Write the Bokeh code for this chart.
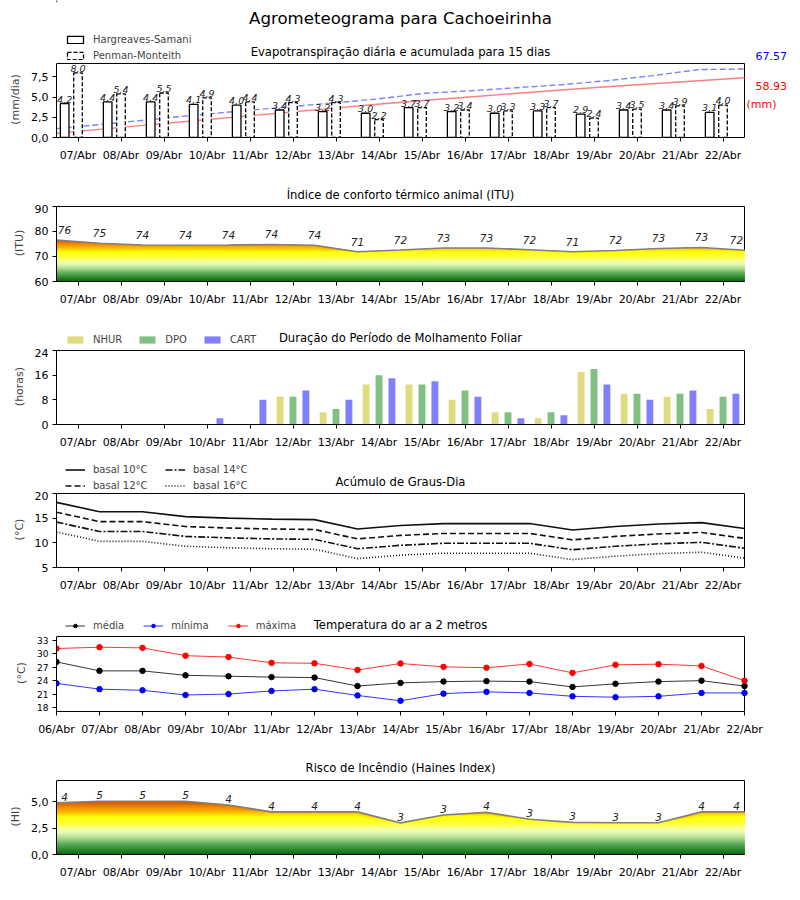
import numpy as np
from bokeh.plotting import figure
from bokeh.models import Range1d, FixedTicker, Legend, LegendItem, Label
from bokeh.layouts import column
from bokeh.embed import file_html
from bokeh.resources import INLINE
from bokeh.core.properties import value

FONT = "DejaVu Sans"

# ---------------- data ----------------
days = ["07/Abr", "08/Abr", "09/Abr", "10/Abr", "11/Abr", "12/Abr", "13/Abr", "14/Abr",
        "15/Abr", "16/Abr", "17/Abr", "18/Abr", "19/Abr", "20/Abr", "21/Abr", "22/Abr"]
days_temp = ["06/Abr"] + days

et_hs = [4.2, 4.4, 4.4, 4.1, 4.0, 3.4, 3.2, 3.0, 3.7, 3.2, 3.0, 3.3, 2.9, 3.4, 3.4, 3.1]
et_pm = [8.0, 5.4, 5.5, 4.9, 4.4, 4.3, 4.3, 2.2, 3.7, 3.4, 3.3, 3.7, 2.4, 3.5, 3.9, 4.0]
acc_hs = [4.2, 8.3, 12.4, 16.5, 20.6, 24.6, 28.7, 32.8, 36.5, 40.0, 43.4, 46.8, 50.0, 53.0, 56.0, 58.93]
acc_pm = [8.8, 13.0, 17.5, 22.0, 26.0, 30.0, 34.0, 38.0, 43.5, 46.0, 49.0, 52.0, 56.0, 61.0, 67.0, 67.57]
acc_hs_total = "58.93"
acc_pm_total = "67.57"

itu = [76.6, 75.3, 74.6, 74.5, 74.6, 74.8, 74.5, 71.9, 72.6, 73.4, 73.4, 72.7, 71.9, 72.4, 73.2, 73.6, 72.5]

nhur = [0, 0, 0, 0, 0, 9, 4, 13, 13, 8, 4, 2, 17, 10, 9, 5]
dpo = [0, 0, 0, 0, 0, 9, 5, 16, 13, 11, 4, 4, 18, 10, 10, 9]
cart = [0, 0, 0, 2, 8, 11, 8, 15, 14, 9, 2, 3, 13, 8, 11, 10]

gd10 = [18.2, 16.3, 16.3, 15.3, 15.0, 14.8, 14.7, 12.8, 13.5, 13.9, 13.9, 13.9, 12.6, 13.3, 13.8, 14.1, 12.9]
gd12 = [16.2, 14.3, 14.3, 13.3, 13.0, 12.8, 12.7, 10.8, 11.5, 11.9, 11.9, 11.9, 10.6, 11.3, 11.8, 12.1, 10.9]
gd14 = [14.2, 12.3, 12.3, 11.3, 11.0, 10.8, 10.7, 8.8, 9.5, 9.9, 9.9, 9.9, 8.6, 9.3, 9.8, 10.1, 8.9]
gd16 = [12.2, 10.3, 10.3, 9.3, 9.0, 8.8, 8.7, 6.8, 7.5, 7.9, 7.9, 7.9, 6.6, 7.3, 7.8, 8.1, 6.9]

t_med = [28.2, 26.2, 26.2, 25.2, 25.0, 24.8, 24.7, 22.8, 23.5, 23.8, 23.9, 23.8, 22.6, 23.3, 23.8, 24.0, 22.8]
t_min = [23.4, 22.1, 21.85, 20.8, 21.0, 21.7, 22.1, 20.7, 19.5, 21.1, 21.5, 21.25, 20.5, 20.3, 20.5, 21.25, 21.25]
t_max = [31.2, 31.5, 31.35, 29.6, 29.3, 28.0, 27.9, 26.4, 27.85, 27.1, 26.9, 27.75, 25.75, 27.55, 27.7, 27.3, 24.0]

haines = [4.9, 5.05, 5.05, 5.05, 4.7, 4.05, 4.05, 4.05, 3.0, 3.75, 4.0, 3.35, 3.05, 3.02, 3.02, 4.05, 4.05]

# ---------------- helpers ----------------
xs16 = np.arange(len(days), dtype=float)
xs17 = np.arange(len(days_temp), dtype=float) - 0.5
xs_acc = np.linspace(-0.5, len(days) - 0.5, len(acc_hs))

FIG_W = 800
LEFT = 56
PX = 43.0   # pixels per day
BOTTOM = 26
PAD = 2     # px of frame kept above the data box so its top edge is not clipped
OFF = [-1000.0]   # legend-only proxies sit far outside the header's visible range

STOPS = [(0.0, "#0a650a"), (0.1, "#2f8a2f"), (0.2, "#5fae5f"), (0.3, "#a8d88a"),
         (0.4, "#e2f7b4"), (0.48, "#f4ffa0"), (0.56, "#ffff40"), (0.7, "#ffff08"),
         (0.76, "#ffd000"), (0.82, "#f8a800"), (0.9, "#f08000"), (1.0, "#c84800")]


def hex2rgb(h):
    return np.array([int(h[i:i + 2], 16) for i in (1, 3, 5)], dtype=float)


def cmap(f):
    for (f0, c0), (f1, c1) in zip(STOPS[:-1], STOPS[1:]):
        if f <= f1:
            t = (f - f0) / (f1 - f0)
            c = hex2rgb(c0) * (1 - t) + hex2rgb(c1) * t
            return "#%02x%02x%02x" % tuple(int(round(v)) for v in c)
    return STOPS[-1][1]


class Panel:
    """Header strip (title + legend, page-pixel coords) and a data figure below it."""

    def __init__(self, T, D, B, x0, x1, ymin, ymax, ylabel, xticks, xlabels, yticks,
                 ylabels=None, ytick_size="11px"):
        self.T, self.D, self.B = T, D, B
        self.x0, self.x1, self.ymin, self.ymax = x0, x1, ymin, ymax
        top = D - PAD
        self.top = top
        # header figure: data coordinates == page pixels (frame spans LEFT..FIG_W)
        h = figure(width=FIG_W, height=top - T, x_range=Range1d(LEFT, FIG_W),
                   y_range=Range1d(top, T), output_backend="svg", toolbar_location=None,
                   x_axis_type=None, y_axis_type=None,
                   min_border_left=LEFT, min_border_right=0, min_border_top=0, min_border_bottom=0)
        h.xgrid.visible = False
        h.ygrid.visible = False
        h.outline_line_alpha = 0
        self.h = h
        # data figure
        y_ext = ymin + (ymax - ymin) * (B - top) / (B - D)
        x_ext = x0 + (FIG_W - LEFT) / PX
        p = figure(width=FIG_W, height=B + BOTTOM - top, x_range=Range1d(x0, x_ext),
                   y_range=Range1d(ymin, y_ext), output_backend="svg", toolbar_location=None,
                   min_border_left=LEFT, min_border_right=0, min_border_top=0,
                   min_border_bottom=BOTTOM)
        p.xgrid.visible = False
        p.ygrid.visible = False
        p.outline_line_alpha = 0
        p.xaxis.ticker = FixedTicker(ticks=list(xticks))
        p.xaxis.major_label_overrides = {int(t): l for t, l in zip(xticks, xlabels)}
        p.yaxis.ticker = FixedTicker(ticks=list(yticks))
        if ylabels is not None:
            p.yaxis.major_label_overrides = {t: l for t, l in zip(yticks, ylabels)}
        p.xaxis.bounds = (x0, x1)
        p.yaxis.bounds = (ymin, ymax)
        for ax in (p.xaxis[0], p.yaxis[0]):
            ax.axis_line_color = "black"
            ax.axis_line_width = 1
            ax.major_tick_line_color = "black"
            ax.major_tick_out = 4
            ax.major_tick_in = 0
            ax.minor_tick_out = 0
            ax.minor_tick_in = 0
            ax.major_label_text_font = FONT
            ax.major_label_text_color = "black"
        p.xaxis.major_label_standoff = 7
        p.yaxis.major_label_standoff = 4
        p.xaxis.major_label_text_font_size = "11px"
        p.yaxis.major_label_text_font_size = ytick_size
        p.yaxis.axis_label = ylabel
        p.yaxis.axis_label_text_font = FONT
        p.yaxis.axis_label_text_font_size = "11px"
        p.yaxis.axis_label_text_font_style = "normal"
        p.yaxis.axis_label_standoff = 6
        # top and right sides of the box
        p.segment(x0=[x0, x1], y0=[ymax, ymin], x1=[x1, x1], y1=[ymax, ymax],
                  line_color="black", line_width=1)
        self.p = p

    def xpx(self, x_px):
        return self.x0 + (x_px - LEFT) / PX

    def head_text(self, text, x_px, y_px, size, color="black", align="center"):
        self.h.add_layout(Label(x=x_px, y=y_px, text=text, text_font=FONT,
                                text_font_size=size, text_color=color, text_align=align,
                                text_baseline="middle"))

    def title(self, text, y_px):
        self.head_text(text, 400, y_px, "11.6px")

    def legend(self, items, orientation, left_px, bottom_px, spacing=None):
        bottom_px = min(bottom_px, self.top)
        lg = Legend(items=items)
        lg.orientation = orientation
        lg.location = (left_px - LEFT, self.top - bottom_px)
        lg.label_text_font = FONT
        lg.label_text_font_size = "10px"
        lg.glyph_width = 20
        lg.glyph_height = 9
        lg.label_height = 12
        lg.label_standoff = 8
        if spacing is None:
            spacing = 4 if orientation == "vertical" else 19
        lg.spacing = spacing
        lg.padding = 0
        lg.margin = 0
        lg.border_line_alpha = 0
        lg.background_fill_alpha = 0
        self.h.add_layout(lg)


def gradient_area(p, xs, vals, vmin, vmax, base, n=60):
    curve = np.array(vals, dtype=float)
    for k in range(n - 1, -1, -1):
        hi = vmin + (k + 1) * (vmax - vmin) / n
        col = cmap((k + 0.5) / n)
        p.varea(x=xs, y1=np.full(len(xs), base), y2=np.minimum(curve, hi), fill_color=col)
    p.line(xs, curve, line_color="#808080", line_width=1.6)


# ---------------- panel 1: ET ----------------
P1 = Panel(0, 63, 138, -0.5, 15.5, 0, 9.15, "(mm/dia)", xs16, days,
           [0, 2.5, 5, 7.5], ["0,0", "2,5", "5,0", "7,5"])
p1 = P1.p
P1.head_text("Agrometeograma para Cachoeirinha", 400, 18, "16.6px")
P1.title("Evapotranspiração diária e acumulada para 15 dias", 51)

acc_max = 73.0
acc_ext = acc_max * (P1.B - P1.top) / (P1.B - P1.D)
p1.extra_y_ranges = {"acc": Range1d(0, acc_ext)}
p1.line(xs_acc, acc_pm, y_range_name="acc", line_color="#7f7fff", line_dash="6 3", line_width=1.4)
p1.line(xs_acc, acc_hs, y_range_name="acc", line_color="#ff7f7f", line_width=1.4)

bar_hs = dict(fill_color="white", line_color="black", line_width=1.3)
bar_pm = dict(fill_color="white", line_color="black", line_width=1.3, line_dash="4 2")
p1.vbar(x=xs16 - 0.31, width=0.2, top=et_hs, **bar_hs)
p1.vbar(x=xs16, width=0.2, top=et_pm, **bar_pm)
fmt = lambda v: ("%.1f" % v).replace(".", ",")
for xx, vals in ((xs16 - 0.31, et_hs), (xs16, et_pm)):
    p1.text(x=xx, y=vals, text=[fmt(v) for v in vals], text_font=value(FONT),
            text_font_style="italic", text_font_size="9.5px", text_align="center",
            text_baseline="bottom", y_offset=-1, text_color="#222222")


def acc_y(y_px):
    return (P1.B - y_px) / (P1.B - P1.D) * acc_max


P1.head_text(acc_pm_total, 755, 55, "11px", color="blue", align="left")
p1.add_layout(Label(x=P1.xpx(755), y=acc_y(86), y_range_name="acc", text=acc_hs_total,
                    text_color="red", text_font=FONT, text_font_size="11px", text_baseline="middle"))
p1.add_layout(Label(x=P1.xpx(746), y=acc_y(105), y_range_name="acc", text="(mm)",
                    text_color="red", text_font=FONT, text_font_size="11px", text_baseline="middle"))

h1 = P1.h
l_hs = h1.vbar(x=OFF, top=[1], width=1, **bar_hs)
l_pm = h1.vbar(x=OFF, top=[1], width=1, **bar_pm)
P1.legend([LegendItem(label="Hargreaves-Samani", renderers=[l_hs]),
           LegendItem(label="Penman-Monteith", renderers=[l_pm])], "vertical", 65, 61)

# ---------------- panel 2: ITU ----------------
P2 = Panel(164, 206, 282, -0.5, 15.5, 60, 90, "(ITU)", xs16, days, [60, 70, 80, 90])
p2 = P2.p
P2.title("Índice de conforto térmico animal (ITU)", 194)
gradient_area(p2, xs17, itu, 60, 77, 60)
itu_lab = [str(int(v)) for v in itu]
offs = [8] + [0] * (len(itu) - 2) + [-8]
p2.text(x=xs17, y=itu, text=itu_lab, x_offset=offs, y_offset=-10, text_font=value(FONT),
        text_font_style="italic", text_font_size="10.5px", text_align="center",
        text_baseline="middle", text_color="#222222")

# ---------------- panel 3: leaf wetness ----------------
P3 = Panel(308, 350, 425, -0.5, 15.5, 0, 24, "(horas)", xs16, days, [0, 8, 16, 24])
p3 = P3.p
P3.title("Duração do Período de Molhamento Foliar", 337)
wet_cols = {"NHUR": "#dfdc80", "DPO": "#80c080", "CART": "#8080ff"}
for off, vals, name in ((-0.3, nhur, "NHUR"), (0.0, dpo, "DPO"), (0.3, cart, "CART")):
    p3.vbar(x=xs16 + off, width=0.16, top=vals, fill_color=wet_cols[name], line_alpha=0)
leg3 = [LegendItem(label=name, renderers=[P3.h.vbar(x=OFF, top=[1], width=1, fill_color=c, line_alpha=0)])
        for name, c in wet_cols.items()]
P3.legend(leg3, "horizontal", 65, 345, spacing=15)

# ---------------- panel 4: degree days ----------------
P4 = Panel(451, 493, 568, -0.5, 15.5, 5, 20, "(°C)", xs16, days, [5, 10, 15, 20])
p4 = P4.p
P4.title("Acúmulo de Graus-Dia", 481)
gd_styles = (("basal 10°C", gd10, None), ("basal 12°C", gd12, "6 3"),
             ("basal 14°C", gd14, "7 2 2 2"), ("basal 16°C", gd16, "1 2"))
leg4 = []
for lab, vals, dash in gd_styles:
    kw = dict(line_color="#111111", line_width=1.6)
    if dash:
        kw["line_dash"] = dash
    p4.line(xs17, vals, **kw)
    proxy = P4.h.line(x=OFF * 2, y=[P4.T, P4.T], **kw)
    leg4.append(LegendItem(label=lab, renderers=[proxy]))
P4.legend(leg4[:2], "vertical", 65, 491)
P4.legend(leg4[2:], "vertical", 165, 491)

# ---------------- panel 5: temperature ----------------
xt = np.arange(len(days_temp), dtype=float)
P5 = Panel(594, 636, 712, 0, 16, 17.1, 33.9, "(°C)", xt, days_temp,
           [18, 21, 24, 27, 30, 33], ytick_size="9px")
p5 = P5.p
P5.title("Temperatura do ar a 2 metros", 624)
items = []
for lab, vals, col in (("média", t_med, "black"), ("mínima", t_min, "blue"), ("máxima", t_max, "red")):
    p5.line(xt, vals, line_color=col, line_width=1, line_alpha=0.8)
    p5.scatter(xt, vals, size=5.5, fill_color=col, line_color=col)
    rl = P5.h.line(x=OFF * 2, y=[P5.T, P5.T], line_color=col, line_width=1, line_alpha=0.8)
    rc = P5.h.scatter(x=OFF, y=[P5.T], size=5.5, fill_color=col, line_color=col)
    items.append(LegendItem(label=lab, renderers=[rl, rc]))
P5.legend(items, "horizontal", 65, 631)

# ---------------- panel 6: Haines ----------------
P6 = Panel(738, 780, 855, -0.5, 15.5, 0, 7.03, "(HI)", xs16, days, [0, 2.5, 5],
           ["0,0", "2,5", "5,0"])
p6 = P6.p
P6.title("Risco de Incêndio (Haines Index)", 767)
gradient_area(p6, xs17, haines, 0, 5.1, 0)
h_lab = [str(int(v)) for v in haines]
p6.text(x=xs17, y=haines, text=h_lab, x_offset=offs, y_offset=-6, text_font=value(FONT),
        text_font_style="italic", text_font_size="10.5px", text_align="center",
        text_baseline="middle", text_color="#222222")

figs = []
for P in (P1, P2, P3, P4, P5, P6):
    figs += [P.h, P.p]
layout = column(*figs, spacing=0)
open("out.html", "w").write(file_html(layout, INLINE))
